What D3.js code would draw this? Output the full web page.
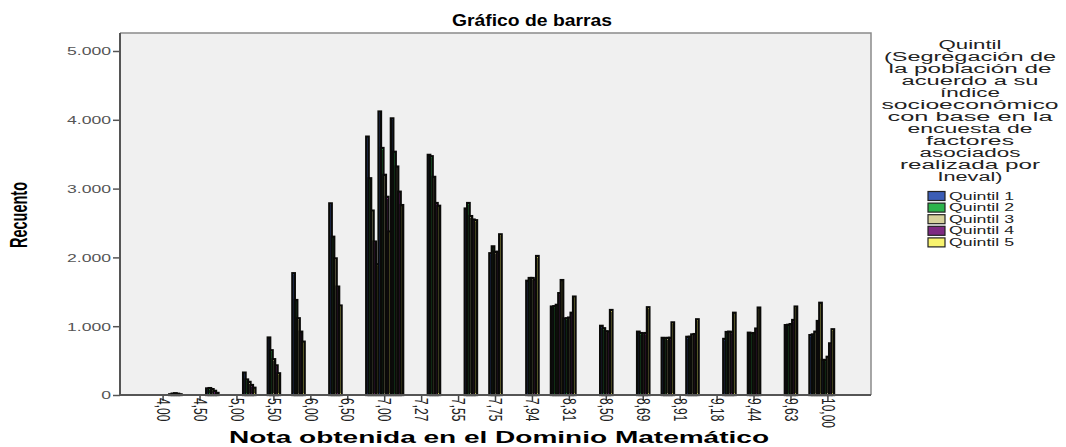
<!DOCTYPE html>
<html><head><meta charset="utf-8">
<script src="https://cdn.jsdelivr.net/npm/d3@7"></script>
<style>
body{margin:0;background:#fff;}
svg{display:block;font-family:"Liberation Sans",Arial,sans-serif;}
</style>
</head><body>
<svg id="chart" width="1066" height="447"></svg>
<script>
// ---- data ----
const categoryCount = 61;          // category slots on the x axis
const firstLabelSlot = 3;          // slot of "4,00"
const labelEvery = 3;
const tickLabels = ["4,00","4,50","5,00","5,50","6,00","6,50","7,00","7,27","7,55","7,75","7,94","8,31","8,50","8,69","8,91","9,18","9,44","9,63","10,00"];
const clusterSlots = [1,4,7,9,11,14,17,18,19,22,25,27,30,32,33,36,39,41,43,46,48,51,53,54]; // offset from "4,00"
const quintil1 = [10, 95, 325, 835,1770,2785,3755,4120,4020,3490,2710,2060,1660,1285,1110,1005, 920, 830, 845, 815, 905,1015, 870, 510];
const quintil2 = [20,100, 225, 650,1380,2300,3150,3590,3535,3470,2790,2160,1700,1290,1115, 970, 900, 825, 845, 915, 895,1020, 880, 505];
const quintil3 = [25, 85, 190, 520,1115,1985,2680,3200,3320,3170,2600,2080,1700,1310,1125, 925, 895, 830, 880, 920, 900,1030, 920, 555];
const quintil4 = [18, 60, 145, 430, 920,1575,2230,2880,2955,2790,2550,2080,1675,1480,1195, 920, 900, 830, 885, 910, 965,1090,1075, 750];
const quintil5 = [10, 30, 105, 315, 775,1300,1900,2375,2760,2750,2540,2335,2020,1670,1430,1235,1275,1055,1100,1195,1270,1285,1340, 955];
const seriesNames = ["Quintil 1","Quintil 2","Quintil 3","Quintil 4","Quintil 5"];
const seriesValues = [quintil1, quintil2, quintil3, quintil4, quintil5];
const seriesColors = ["#3B5DB6","#2DB34B","#D6D19C","#7E2A82","#F8F36E"];
const yTicks = [0,1000,2000,3000,4000,5000];
const chartTitle = "Gráfico de barras";
const xTitle = "Nota obtenida en el Dominio Matemático";
const yTitle = "Recuento";
const legendTitleLines = ["Quintil","(Segregación de","la población de","acuerdo a su","índice","socioeconómico","con base en la","encuesta de","factores","asociados","realizada por","Ineval)"];

// ---- layout ----
const plot = {left:120, right:871, top:33, bottom:395};
const legendLineWidths = [63,172,163,137,60,177,165,125,88,101,140,65];

const svg = d3.select("#chart");
svg.append("rect").attr("width",1066).attr("height",447).attr("fill","#fff");

const x = d3.scaleBand().domain(d3.range(categoryCount)).range([plot.left, plot.right]).paddingInner(0).paddingOuter(0);
const xs = d3.scaleBand().domain(seriesNames).range([0, x.bandwidth()]);
const y = d3.scaleLinear().domain([0,5000]).range([plot.bottom, 51]);
const color = d3.scaleOrdinal().domain(seriesNames).range(seriesColors);
const loc = d3.formatLocale({decimal:",", thousands:".", grouping:[3], currency:["","€"]});

// plot background
svg.append("rect").attr("x",plot.left).attr("y",plot.top)
  .attr("width",plot.right-plot.left).attr("height",plot.bottom-plot.top)
  .attr("fill","#F0F0F0");
svg.append("path").attr("d",`M${plot.left},${plot.top}H${plot.right}V${plot.bottom}`)
  .attr("fill","none").attr("stroke","#8a8a8a").attr("stroke-width",1.5);

// bars
const rows = clusterSlots.map((s,k)=>({slot:s+firstLabelSlot, vals:seriesNames.map((n,q)=>({name:n, v:seriesValues[q][k]}))}));
const g = svg.append("g");
g.selectAll("g.cl").data(rows).join("g").attr("class","cl")
  .attr("transform",d=>`translate(${x(d.slot)},0)`)
  .selectAll("rect").data(d=>d.vals).join("rect")
  .attr("x",d=>xs(d.name)).attr("width",xs.bandwidth())
  .attr("y",d=>y(d.v)).attr("height",d=>y(0)-y(d.v))
  .attr("fill",d=>color(d.name)).attr("stroke","#0a0a08").attr("stroke-width",2.3);

// y axis
const yAxis = svg.append("g").attr("transform",`translate(${plot.left},0)`)
  .call(d3.axisLeft(y).tickValues(yTicks).tickSize(7).tickSizeOuter(0).tickFormat(loc.format(",")));
yAxis.select(".domain").remove();
yAxis.selectAll(".tick line").attr("stroke","#555").attr("stroke-width",1.5);
yAxis.selectAll(".tick text").attr("x",0).attr("dy","0.35em")
  .attr("transform","translate(-9,0) scale(1.6,1)")
  .attr("font-size",11).attr("fill","#555").attr("font-family",null);

// x axis
const labeled = tickLabels.map((t,i)=>firstLabelSlot+i*labelEvery);
const xAxis = svg.append("g").attr("transform",`translate(0,${plot.bottom})`)
  .call(d3.axisBottom(x).tickValues(labeled).tickSize(6).tickSizeOuter(0)
    .tickFormat(s=>tickLabels[(s-firstLabelSlot)/labelEvery]));
xAxis.select(".domain").remove();
xAxis.selectAll(".tick line").attr("stroke","#444").attr("stroke-width",1.5);
xAxis.selectAll(".tick text").attr("x",0).attr("y",0).attr("dy","0.35em")
  .attr("text-anchor","start")
  .attr("transform","translate(0,3) scale(1.5,1) rotate(90)")
  .attr("font-size",12).attr("fill","#222").attr("font-family",null);

// axis lines
svg.append("line").attr("x1",plot.left).attr("x2",plot.left).attr("y1",plot.top).attr("y2",plot.bottom+0.5)
  .attr("stroke","#555").attr("stroke-width",2);
svg.append("line").attr("x1",plot.left).attr("x2",plot.right).attr("y1",plot.bottom).attr("y2",plot.bottom)
  .attr("stroke","#555").attr("stroke-width",2);

// titles
svg.append("text").attr("x",532).attr("y",20).attr("dy","0.35em").attr("text-anchor","middle")
  .attr("font-size",17).attr("font-weight","bold").attr("textLength",160).attr("lengthAdjust","spacingAndGlyphs")
  .text(chartTitle);
svg.append("text").attr("x",499).attr("y",437).attr("dy","0.35em").attr("text-anchor","middle")
  .attr("font-size",16).attr("font-weight","bold").attr("textLength",540).attr("lengthAdjust","spacingAndGlyphs")
  .text(xTitle);
svg.append("text").attr("dy","0.35em").attr("text-anchor","middle")
  .attr("transform","translate(19,215) scale(1.6,1) rotate(-90)")
  .attr("font-size",14.5).attr("font-weight","bold").text(yTitle);

// legend
const lg = svg.append("g");
lg.selectAll("text.lt").data(legendTitleLines).join("text").attr("class","lt")
  .attr("x",970).attr("y",(d,i)=>45+i*12).attr("dy","0.35em").attr("text-anchor","middle")
  .attr("font-size",12).attr("fill","#222")
  .attr("textLength",(d,i)=>legendLineWidths[i]).attr("lengthAdjust","spacingAndGlyphs")
  .text(d=>d);
const items = lg.selectAll("g.li").data(seriesNames).join("g").attr("class","li")
  .attr("transform",(d,i)=>`translate(928,${196+i*11.6})`);
items.append("rect").attr("x",0).attr("y",-4.5).attr("width",17).attr("height",9)
  .attr("fill",d=>color(d)).attr("stroke","#222").attr("stroke-width",1.2);
items.append("text").attr("x",21).attr("dy","0.35em").attr("font-size",10.5).attr("fill","#222")
  .attr("textLength",65).attr("lengthAdjust","spacingAndGlyphs").text(d=>d);
</script>
</body></html>
